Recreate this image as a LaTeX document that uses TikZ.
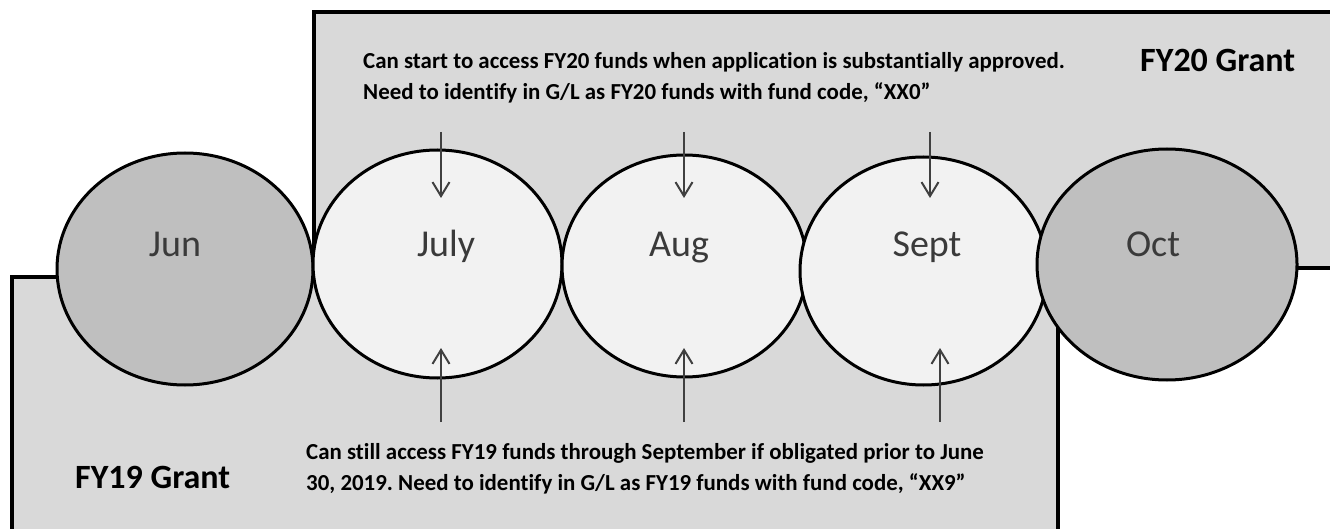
\documentclass[tikz,border=0pt]{standalone}
\usepackage{fontspec}
\setmainfont{Carlito}[Ligatures=NoCommon]
\usetikzlibrary{shapes.geometric,arrows.meta}
\definecolor{boxgray}{HTML}{D9D9D9}
\definecolor{darkmonth}{HTML}{BFBFBF}
\definecolor{lightmonth}{HTML}{F2F2F2}
\definecolor{arrowgray}{HTML}{404040}
\definecolor{labelgray}{HTML}{3A3A3A}
\frenchspacing
\tikzset{
  grantbox/.style={draw=black,line width=3.5pt,fill=boxgray},
  monthbase/.style={ellipse,draw=black,line width=3pt,inner sep=0pt},
  darkm/.style={monthbase,fill=darkmonth},
  lightm/.style={monthbase,fill=lightmonth},
  monthlbl/.style={anchor=base,inner sep=0pt,text=labelgray,font=\fontsize{38}{40}\selectfont},
  grantlbl/.style={anchor=base west,inner sep=0pt,text=black,font=\fontsize{34}{36}\selectfont\bfseries},
  note/.style={anchor=base west,inner sep=0pt,text=black,align=left,font=\fontsize{22.9}{31}\selectfont\bfseries},
  pointer/.style={draw=arrowgray,line width=2pt,-{Straight Barb[length=14pt,width=17pt,line width=2pt]}}
}
\begin{document}
\begin{tikzpicture}[x=1pt,y=-1pt]
\useasboundingbox (0,0) rectangle (1330,529);
\clip (0,0) rectangle (1330,529);
\fill[white] (0,0) rectangle (1330,529);
% grant boxes
\draw[grantbox] (12,277) rectangle (1058,545);
\draw[grantbox] (314,12) rectangle (1350,268);
% months
\node[darkm,minimum width=256pt,minimum height=232pt] (jun) at (185,269) {};
\node[lightm,minimum width=249pt,minimum height=228pt] (jul) at (437.5,264) {};
\node[lightm,minimum width=245pt,minimum height=222pt] (aug) at (684.5,266) {};
\node[lightm,minimum width=247pt,minimum height=228pt] (sep) at (923.5,271) {};
\node[darkm,minimum width=260pt,minimum height=231pt] (oct) at (1167,264.5) {};
% month labels
\node[monthlbl] (junl) at (175,257) {Jun};
\node[monthlbl] (jull) at (446,257) {July};
\node[monthlbl] (augl) at (679,257) {Aug};
\node[monthlbl] (sepl) at (927,257) {Sept};
\node[monthlbl] (octl) at (1153,257) {Oct};
% grant labels
\node[grantlbl] (fy20) at (1140,72) {FY20 Grant};
\node[grantlbl] (fy19) at (75,488) {FY19 Grant};
% notes (base = baseline of last line)
\node[note] (topnote) at (363,99.5) {Can start to access FY20 funds when application is substantially approved.\\Need to identify in G/L as FY20 funds with fund code, “XX0”};
\node[note] (botnote) at (306,490) {Can still access FY19 funds through September if obligated prior to June\\30, 2019. Need to identify in G/L as FY19 funds with fund code, “XX9”};
% arrow end points
\coordinate (t1s) at (441,132); \coordinate (t1e) at (441,198);
\coordinate (t2s) at (684,132); \coordinate (t2e) at (684,198);
\coordinate (t3s) at (930,132); \coordinate (t3e) at (930,198);
\coordinate (b1s) at (441,422); \coordinate (b1e) at (441,348);
\coordinate (b2s) at (684,422); \coordinate (b2e) at (684,348);
\coordinate (b3s) at (940,422); \coordinate (b3e) at (940,348);
\draw[pointer] (t1s) -- (t1e);
\draw[pointer] (t2s) -- (t2e);
\draw[pointer] (t3s) -- (t3e);
\draw[pointer] (b1s) -- (b1e);
\draw[pointer] (b2s) -- (b2e);
\draw[pointer] (b3s) -- (b3e);
\end{tikzpicture}
\end{document}
